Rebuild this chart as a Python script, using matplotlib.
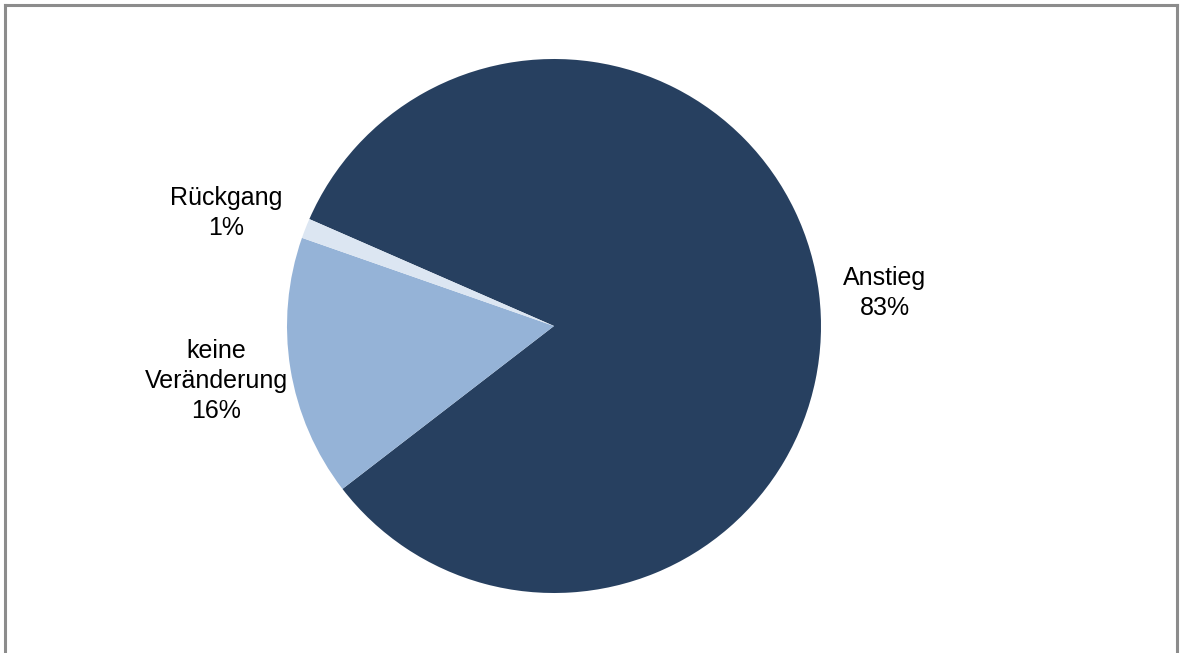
import matplotlib
matplotlib.use("Agg")
import matplotlib.pyplot as plt
from matplotlib.lines import Line2D

categories = ["Anstieg", "keine\nVeränderung", "Rückgang"]
values = [83.0, 15.8, 1.2]
colors = ["#274060", "#95B3D7", "#DCE6F2"]

W, H = 1180, 653
fig = plt.figure(figsize=(W / 100, H / 100), dpi=100)
ax = fig.add_axes([0, 0, 1, 1])

cx, cy, r = 554, H - 326, 267
ax.pie(values, colors=colors, startangle=156.4, counterclock=False,
       center=(cx, cy), radius=r, frame=True,
       wedgeprops=dict(linewidth=0))
ax.set_xlim(0, W)
ax.set_ylim(0, H)
ax.set_aspect("auto")
ax.axis("off")

label_pos = [(885, H - 293), (216, H - 381), (226, H - 213)]
for cat, v, (x, y) in zip(categories, values, label_pos):
    ax.text(x, y, f"{cat}\n{v:.0f}%", ha="center", va="center",
            fontsize=18, family="Liberation Sans", color="#000000",
            linespacing=1.33)

# chart border
bc = "#8C8C8C"
def fx(px): return px / W
def fy(py): return 1 - py / H
fig.add_artist(Line2D([fx(5), fx(5)], [fy(5), fy(660)], color=bc, lw=2.2))
fig.add_artist(Line2D([fx(5), fx(1177)], [fy(5), fy(5)], color=bc, lw=2.2))
fig.add_artist(Line2D([fx(1177), fx(1177)], [fy(5), fy(660)], color=bc, lw=2.2))

fig.savefig("out.png", dpi=100)
